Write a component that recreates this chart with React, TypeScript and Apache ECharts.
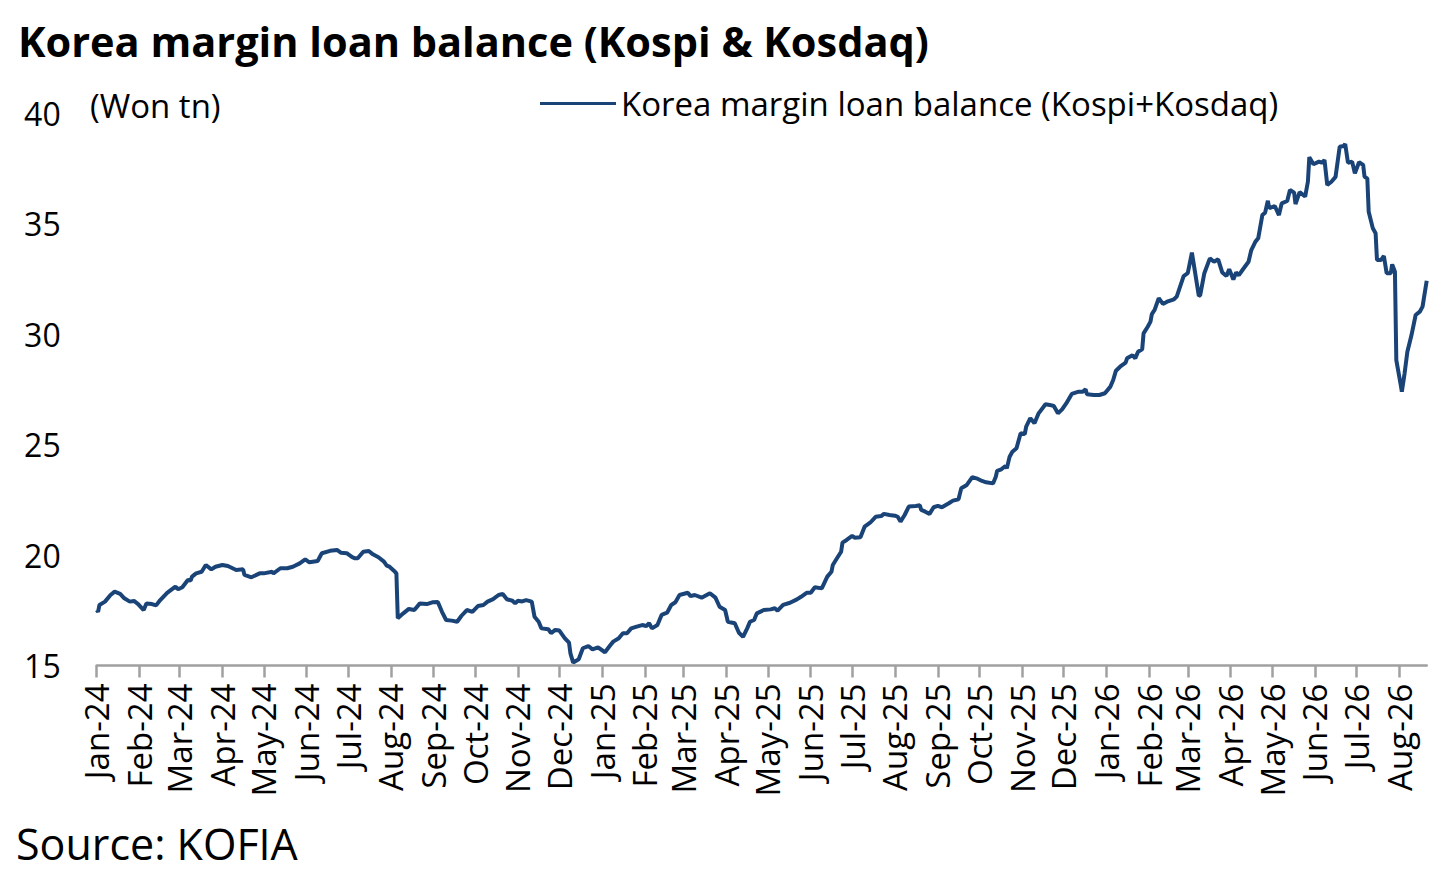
import React, { useEffect, useRef } from "react";
import * as echarts from "echarts";

const TITLE = "Korea margin loan balance (Kospi & Kosdaq)";
const SERIES_NAME = "Korea margin loan balance (Kospi+Kosdaq)";
const UNIT_LABEL = "(Won tn)";
const SOURCE = "Source: KOFIA";
const MONTHS = ["Jan", "Feb", "Mar", "Apr", "May", "Jun", "Jul", "Aug", "Sep", "Oct", "Nov", "Dec"];

// Date axis: first day and number of days covered
const START_DATE = [2024, 0, 1];
const LAST_DAY = 963;

// Observation positions (days since 2024-01-01) and balances (Won tn)
const DAY_OFFSETS = [
  0, 1, 2, 6, 10, 13, 17, 20, 24, 27, 30, 34, 36, 40, 43, 46, 51, 57, 59, 62,
  66, 68, 69, 72, 76, 79, 83, 86, 91, 95, 101, 106, 107, 112, 118, 121, 127, 128, 133, 138,
  142, 147, 151, 154, 160, 163, 169, 174, 177, 181, 185, 187, 189, 193, 197, 200, 204, 208, 210, 212,
  216, 217, 218, 222, 226, 230, 234, 239, 243, 247, 250, 253, 257, 261, 264, 268, 272, 276, 280, 283,
  287, 291, 294, 297, 301, 303, 305, 308, 311, 315, 317, 320, 322, 327, 329, 332, 335, 339, 342, 343,
  345, 349, 352, 356, 359, 363, 368, 372, 374, 378, 381, 384, 387, 391, 395, 398, 400, 402, 406, 409,
  413, 416, 419, 422, 428, 430, 433, 438, 444, 448, 451, 455, 457, 462, 465, 468, 471, 473, 476, 478,
  483, 488, 491, 493, 497, 502, 507, 510, 514, 517, 520, 525, 529, 532, 533, 536, 539, 540, 543, 547,
  549, 553, 556, 560, 564, 568, 570, 574, 578, 580, 582, 585, 588, 593, 596, 597, 600, 603, 606, 609,
  612, 617, 620, 624, 626, 630, 634, 637, 641, 644, 649, 651, 652, 655, 658, 659, 661, 663, 666, 669,
  672, 673, 676, 679, 682, 687, 690, 693, 696, 699, 702, 706, 711, 714, 716, 717, 722, 726, 730, 734,
  736, 738, 741, 745, 746, 750, 752, 754, 757, 758, 761, 763, 764, 766, 769, 772, 775, 780, 782, 787,
  790, 793, 795, 798, 799, 802, 806, 809, 812, 815, 818, 820, 823, 825, 827, 830, 834, 836, 839, 841,
  844, 846, 848, 849, 853, 856, 858, 862, 864, 867, 868, 871, 875, 877, 878, 881, 885, 887, 889, 891,
  894, 897, 900, 903, 904, 906, 909, 911, 914, 917, 918, 920, 921, 924, 926, 927, 930, 932, 934, 937,
  938, 940, 941, 944, 945, 947, 949, 952, 955, 958, 960, 963,
];

const BALANCE = [
  17.51, 17.43, 17.74, 17.89, 18.19, 18.34, 18.24, 18.04, 17.89, 17.92, 17.78, 17.51, 17.81, 17.78, 17.72, 17.96, 18.29, 18.57, 18.45, 18.54,
  18.87, 18.84, 19.02, 19.17, 19.24, 19.55, 19.35, 19.47, 19.55, 19.5, 19.32, 19.35, 19.1, 18.99, 19.17, 19.17, 19.24, 19.17, 19.4, 19.4,
  19.47, 19.62, 19.8, 19.67, 19.73, 20.08, 20.19, 20.23, 20.1, 20.08, 19.9, 19.85, 19.85, 20.15, 20.18, 20.03, 19.9, 19.7, 19.52, 19.47,
  19.24, 19.17, 17.14, 17.36, 17.56, 17.51, 17.81, 17.78, 17.86, 17.87, 17.43, 17.06, 17.03, 16.98, 17.24, 17.51, 17.43, 17.69, 17.74, 17.89,
  18.0, 18.19, 18.24, 18.0, 17.93, 17.81, 17.93, 17.9, 17.96, 17.89, 17.21, 16.98, 16.68, 16.64, 16.46, 16.61, 16.58, 16.23, 16.03, 15.55,
  15.13, 15.28, 15.78, 15.88, 15.73, 15.82, 15.6, 15.93, 16.08, 16.23, 16.46, 16.46, 16.68, 16.76, 16.83, 16.79, 16.91, 16.68, 16.83, 17.29,
  17.39, 17.74, 17.86, 18.19, 18.29, 18.14, 18.19, 18.07, 18.27, 18.07, 17.66, 17.51, 16.98, 16.91, 16.48, 16.3, 16.68, 16.98, 17.06, 17.36,
  17.51, 17.54, 17.59, 17.48, 17.74, 17.84, 17.99, 18.11, 18.29, 18.29, 18.54, 18.49, 19.02, 19.24, 19.55, 19.85, 20.15, 20.56, 20.68, 20.86,
  20.78, 20.8, 21.28, 21.46, 21.73, 21.76, 21.86, 21.81, 21.78, 21.73, 21.51, 21.81, 22.19, 22.22, 22.25, 22.04, 21.96, 21.86, 22.16, 22.22,
  22.16, 22.34, 22.46, 22.52, 23.02, 23.17, 23.52, 23.47, 23.35, 23.29, 23.24, 23.54, 23.81, 23.88, 24.03, 23.92, 24.45, 24.67, 24.83, 25.51,
  25.47, 25.81, 26.19, 25.96, 26.41, 26.82, 26.79, 26.74, 26.41, 26.59, 26.86, 27.29, 27.39, 27.39, 27.5, 27.27, 27.24, 27.24, 27.32, 27.62,
  27.92, 28.34, 28.52, 28.7, 28.9, 29.04, 28.9, 29.2, 29.31, 30.03, 30.33, 30.56, 30.9, 31.09, 31.62, 31.36, 31.46, 31.57, 31.69, 32.62,
  32.75, 33.68, 32.9, 31.72, 31.76, 32.75, 33.42, 33.27, 33.38, 32.78, 32.62, 32.93, 32.47, 32.78, 32.66, 32.93, 33.27, 33.8, 34.18, 34.33,
  35.38, 35.49, 36.03, 35.69, 35.79, 35.38, 35.91, 36.02, 36.52, 36.4, 35.88, 36.42, 36.22, 36.9, 38.0, 37.68, 37.8, 37.75, 37.87, 36.74,
  36.89, 37.11, 38.47, 38.51, 38.6, 37.75, 37.8, 37.27, 37.77, 37.65, 37.11, 37.04, 35.53, 34.78, 34.56, 33.35, 33.35, 33.53, 32.75, 32.75,
  33.15, 32.82, 28.82, 27.77, 27.39, 28.22, 29.2, 29.95, 30.86, 31.01, 31.24, 32.41,
];

const Y_MIN = 15;
const Y_MAX = 40;
const Y_STEP = 5;

const FONT = "'Open Sans', 'DejaVu Sans', sans-serif";

function dayToDate(offset: number): string {
  const d = new Date(Date.UTC(START_DATE[0], START_DATE[1], START_DATE[2] + offset));
  const mm = String(d.getUTCMonth() + 1).padStart(2, "0");
  const dd = String(d.getUTCDate()).padStart(2, "0");
  return `${d.getUTCFullYear()}-${mm}-${dd}`;
}

function monthLabel(value: string): string {
  const [y, m] = value.split("-");
  return `${MONTHS[Number(m) - 1]}-${y.slice(2)}`;
}

export default function App() {
  const ref = useRef<HTMLDivElement>(null);

  useEffect(() => {
    document.body.style.margin = "0";
    if (!ref.current) return;
    const chart = echarts.init(ref.current, null, { renderer: "svg" });

    const categories: string[] = [];
    for (let i = 0; i <= LAST_DAY; i++) categories.push(dayToDate(i));
    const seriesData = DAY_OFFSETS.map((d, i) => [dayToDate(d), BALANCE[i]]);
    const isMonthStart = (_idx: number, value: string) => value.endsWith("-01");

    chart.setOption({
      animation: false,
      backgroundColor: "#ffffff",
      title: {
        text: TITLE,
        left: 13,
        top: 15,
        textStyle: { fontFamily: FONT, fontSize: 41.5, fontWeight: "bold", color: "#000000" },
      },
      legend: {
        data: [SERIES_NAME],
        left: 535,
        top: 82,
        icon: "rect",
        itemWidth: 76,
        itemHeight: 3,
        textStyle: { fontFamily: FONT, fontSize: 33, color: "#000000" },
      },
      grid: { left: 96.7, right: 23.3, top: 113, bottom: 207.5, containLabel: false },
      xAxis: {
        type: "category",
        data: categories,
        boundaryGap: false,
        axisLine: { show: true, lineStyle: { color: "#a0a0a0", width: 2.5 } },
        axisTick: { show: true, interval: isMonthStart, length: 12, lineStyle: { color: "#a0a0a0", width: 2.5 } },
        axisLabel: {
          interval: isMonthStart,
          rotate: 90,
          margin: 18,
          formatter: (v: string) => monthLabel(v),
          fontFamily: FONT,
          fontSize: 33,
          color: "#000000",
        },
        splitLine: { show: false },
      },
      yAxis: {
        type: "value",
        min: Y_MIN,
        max: Y_MAX,
        interval: Y_STEP,
        axisLine: { show: false },
        axisTick: { show: false },
        splitLine: { show: false },
        axisLabel: { margin: 36, fontFamily: FONT, fontSize: 32, color: "#000000" },
      },
      graphic: [
        {
          type: "text",
          left: 90,
          top: 89,
          style: { text: UNIT_LABEL, font: `33px ${FONT}`, fill: "#000000" },
        },
        {
          type: "text",
          left: 16,
          top: 822,
          style: { text: SOURCE, font: `43px ${FONT}`, fill: "#000000" },
        },
      ],
      series: [
        {
          name: SERIES_NAME,
          type: "line",
          data: seriesData,
          showSymbol: false,
          symbol: "none",
          lineStyle: { color: "#1a4478", width: 4 },
          itemStyle: { color: "#1a4478" },
        },
      ],
    });

    return () => chart.dispose();
  }, []);

  return <div ref={ref} style={{ position: "fixed", left: 0, top: 0, width: 1450, height: 873 }} />;
}
